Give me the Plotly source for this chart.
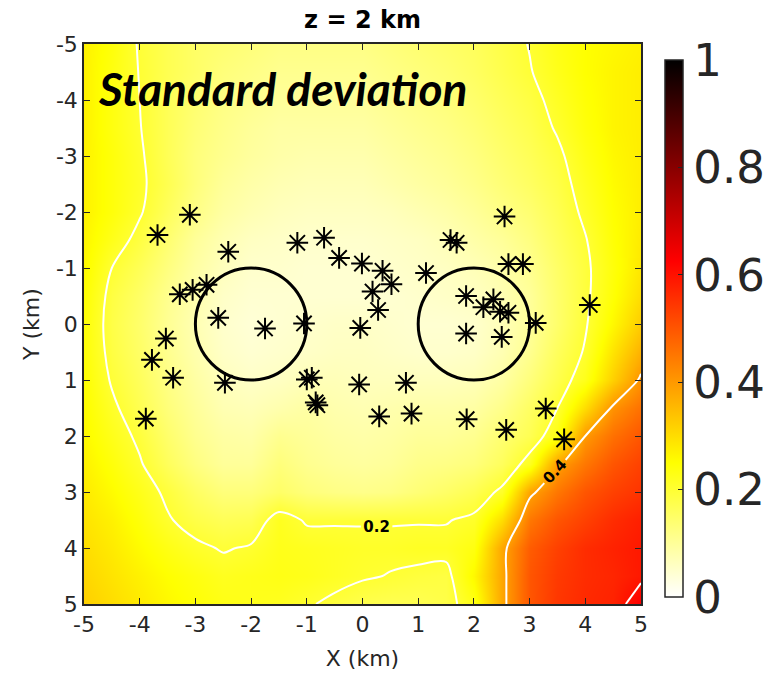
import plotly.graph_objects as go

# Grid coordinates (km)
X_KM = [-5 + 0.5 * i for i in range(21)]
Y_KM = [-5 + 0.5 * j for j in range(21)]

# Standard deviation on the grid, one row per Y value (top row Y = -5)
STD = [
    [0.27, 0.24, 0.195, 0.17, 0.15, 0.14, 0.13, 0.12, 0.12, 0.12, 0.12, 0.13, 0.14, 0.15, 0.16, 0.18, 0.202, 0.23, 0.25, 0.26, 0.27],
    [0.27, 0.235, 0.198, 0.17, 0.15, 0.13, 0.12, 0.11, 0.11, 0.11, 0.11, 0.12, 0.13, 0.14, 0.155, 0.175, 0.197, 0.225, 0.25, 0.265, 0.275],
    [0.27, 0.235, 0.2, 0.165, 0.14, 0.12, 0.11, 0.1, 0.1, 0.1, 0.1, 0.11, 0.12, 0.13, 0.145, 0.165, 0.185, 0.215, 0.245, 0.265, 0.275],
    [0.27, 0.235, 0.202, 0.165, 0.135, 0.115, 0.1, 0.09, 0.09, 0.09, 0.09, 0.1, 0.11, 0.12, 0.135, 0.155, 0.175, 0.205, 0.24, 0.265, 0.275],
    [0.27, 0.24, 0.207, 0.165, 0.13, 0.11, 0.095, 0.085, 0.08, 0.08, 0.08, 0.09, 0.1, 0.11, 0.125, 0.145, 0.165, 0.19, 0.23, 0.26, 0.275],
    [0.27, 0.24, 0.21, 0.17, 0.13, 0.1, 0.085, 0.075, 0.07, 0.07, 0.07, 0.08, 0.09, 0.1, 0.115, 0.135, 0.155, 0.18, 0.22, 0.255, 0.275],
    [0.27, 0.24, 0.205, 0.16, 0.12, 0.09, 0.075, 0.065, 0.06, 0.06, 0.06, 0.065, 0.075, 0.085, 0.1, 0.12, 0.14, 0.17, 0.21, 0.25, 0.275],
    [0.265, 0.225, 0.185, 0.14, 0.1, 0.075, 0.06, 0.055, 0.05, 0.05, 0.05, 0.055, 0.06, 0.07, 0.085, 0.1, 0.125, 0.16, 0.197, 0.245, 0.28],
    [0.26, 0.2, 0.165, 0.125, 0.09, 0.065, 0.05, 0.05, 0.045, 0.045, 0.045, 0.05, 0.055, 0.06, 0.07, 0.085, 0.11, 0.15, 0.19, 0.24, 0.285],
    [0.25, 0.185, 0.15, 0.11, 0.08, 0.055, 0.045, 0.045, 0.045, 0.045, 0.045, 0.045, 0.05, 0.055, 0.06, 0.075, 0.1, 0.145, 0.19, 0.245, 0.3],
    [0.245, 0.18, 0.145, 0.105, 0.075, 0.05, 0.04, 0.045, 0.05, 0.055, 0.055, 0.05, 0.045, 0.045, 0.05, 0.07, 0.1, 0.145, 0.195, 0.26, 0.325],
    [0.245, 0.185, 0.15, 0.11, 0.08, 0.055, 0.045, 0.05, 0.055, 0.06, 0.06, 0.055, 0.05, 0.05, 0.055, 0.075, 0.11, 0.16, 0.205, 0.29, 0.365],
    [0.25, 0.195, 0.16, 0.12, 0.09, 0.065, 0.055, 0.06, 0.07, 0.07, 0.065, 0.065, 0.065, 0.065, 0.07, 0.09, 0.13, 0.175, 0.225, 0.32, 0.41],
    [0.255, 0.21, 0.17, 0.13, 0.1, 0.075, 0.07, 0.08, 0.09, 0.08, 0.075, 0.08, 0.085, 0.085, 0.09, 0.115, 0.155, 0.2, 0.3, 0.41, 0.46],
    [0.26, 0.225, 0.19, 0.145, 0.11, 0.09, 0.085, 0.11, 0.1, 0.09, 0.085, 0.09, 0.1, 0.1, 0.11, 0.14, 0.17, 0.23, 0.4, 0.46, 0.5],
    [0.27, 0.24, 0.205, 0.16, 0.125, 0.1, 0.1, 0.13, 0.11, 0.1, 0.095, 0.1, 0.115, 0.12, 0.13, 0.16, 0.22, 0.39, 0.45, 0.5, 0.53],
    [0.28, 0.255, 0.225, 0.19, 0.155, 0.13, 0.13, 0.15, 0.13, 0.12, 0.115, 0.12, 0.135, 0.15, 0.17, 0.21, 0.385, 0.45, 0.5, 0.53, 0.55],
    [0.29, 0.27, 0.24, 0.205, 0.18, 0.165, 0.17, 0.22, 0.195, 0.196, 0.197, 0.197, 0.197, 0.197, 0.21, 0.3, 0.45, 0.5, 0.53, 0.56, 0.58],
    [0.3, 0.28, 0.255, 0.23, 0.21, 0.196, 0.205, 0.225, 0.22, 0.215, 0.21, 0.21, 0.215, 0.215, 0.235, 0.38, 0.49, 0.53, 0.56, 0.575, 0.59],
    [0.31, 0.29, 0.27, 0.25, 0.235, 0.22, 0.225, 0.23, 0.225, 0.215, 0.205, 0.198, 0.19, 0.185, 0.26, 0.38, 0.5, 0.54, 0.56, 0.57, 0.59],
    [0.32, 0.3, 0.28, 0.26, 0.245, 0.23, 0.225, 0.22, 0.205, 0.19, 0.175, 0.17, 0.17, 0.18, 0.23, 0.38, 0.5, 0.545, 0.565, 0.575, 0.63],
]

# Station locations (km)
STATION_X = [-3.10, -3.68, -2.41, -1.17, -0.69, -0.42, -0.01, -3.28, -3.05, -2.80,
             -2.59, -1.75, -1.05, -0.04, -3.53, -3.78, -3.40, -2.47, -1.00, -0.91,
             -0.84, -0.81, -0.06, -3.89, 2.55, 1.58, 1.69, 0.36, 0.52, 1.14,
             2.62, 2.88, 0.18, 0.28, 1.86, 2.35, 2.17, 2.47, 2.62, 3.11,
             4.08, 1.86, 2.50, 0.78, 0.30, 0.88, 1.87, 2.58, 3.29, 3.62]
STATION_Y = [-1.95, -1.59, -1.29, -1.45, -1.54, -1.18, -1.08, -0.53, -0.61, -0.70,
             -0.11, 0.08, -0.01, 0.07, 0.26, 0.64, 0.96, 1.05, 0.99, 0.96,
             1.40, 1.45, 1.08, 1.69, -1.92, -1.50, -1.45, -0.95, -0.71, -0.91,
             -1.07, -1.07, -0.58, -0.25, -0.50, -0.44, -0.30, -0.22, -0.20, -0.02,
             -0.34, 0.17, 0.23, 1.05, 1.65, 1.60, 1.70, 1.89, 1.51, 2.06]

# Two circular source regions: centre x, centre y, radius (km)
CIRCLE_CX = [-2.0, 2.0]
CIRCLE_CY = [0.0, 0.0]
CIRCLE_R = [1.0, 1.0]

TICKS = [-5, -4, -3, -2, -1, 0, 1, 2, 3, 4, 5]
TICK_LABELS = ["-5", "-4", "-3", "-2", "-1", "0", "1", "2", "3", "4", "5"]
CBAR_TICKS = [0, 0.2, 0.4, 0.6, 0.8, 1]
CBAR_LABELS = ["0", "0.2", "0.4", "0.6", "0.8", "1"]

# Reversed "hot" colormap: white -> yellow -> red -> black
HOT_R = [
    [0.0, "rgb(255,255,255)"],
    [0.25, "rgb(255,255,0)"],
    [0.625, "rgb(255,0,0)"],
    [0.985, "rgb(10,0,0)"],
    [1.0, "rgb(0,0,0)"],
]

INK = "#262626"
FONT = "DejaVu Sans"

fig = go.Figure()

fig.add_trace(go.Heatmap(
    x=X_KM, y=Y_KM, z=STD,
    zsmooth="best", zmin=0, zmax=1,
    colorscale=HOT_R,
    colorbar=dict(
        x=1.043, xanchor="left", xref="paper", xpad=0,
        y=0.492, yanchor="middle", len=0.959, lenmode="fraction", ypad=0,
        thickness=18, thicknessmode="pixels",
        outlinecolor=INK, outlinewidth=1.5,
        tickvals=CBAR_TICKS, ticktext=CBAR_LABELS,
        ticks="inside", ticklen=5, tickcolor=INK,
        tickfont=dict(family=FONT, size=45, color=INK),
    ),
    hoverinfo="skip",
))

fig.add_trace(go.Contour(
    x=X_KM, y=Y_KM, z=STD,
    showscale=False,
    contours=dict(
        coloring="none", start=0.2, end=0.6, size=0.2,
        showlabels=True,
        labelfont=dict(family=FONT, size=15, color="black", weight="bold"),
    ),
    line=dict(color="white", width=2, smoothing=1.0),
    hoverinfo="skip",
))

fig.add_trace(go.Scatter(
    x=STATION_X, y=STATION_Y, mode="markers",
    marker=dict(symbol="asterisk-open", size=18, color="black",
                line=dict(color="black", width=2)),
    hoverinfo="skip", showlegend=False,
))

for cx, cy, r in zip(CIRCLE_CX, CIRCLE_CY, CIRCLE_R):
    fig.add_shape(type="circle", xref="x", yref="y",
                  x0=cx - r, x1=cx + r, y0=cy - r, y1=cy + r,
                  line=dict(color="black", width=3))

fig.add_annotation(
    x=-4.78, y=-4.2, xref="x", yref="y",
    xanchor="left", yanchor="middle", showarrow=False,
    text="<b><i>Standard deviation</i></b>",
    font=dict(family="Lato", size=46, color="black"),
)

axis_common = dict(
    tickvals=TICKS, ticktext=TICK_LABELS,
    ticks="inside", ticklen=6, tickwidth=1.2, tickcolor=INK,
    showline=True, linecolor=INK, linewidth=1.5, mirror="allticks",
    showgrid=False, zeroline=False,
    tickfont=dict(family=FONT, size=22, color=INK),
    title_font=dict(family=FONT, size=22, color=INK),
)

fig.update_layout(
    width=771, height=684,
    margin=dict(l=84, r=130, t=44, b=80, autoexpand=False),
    paper_bgcolor="white", plot_bgcolor="white",
    showlegend=False,
    title=dict(text="<b>z = 2 km</b>", x=0.4702, xanchor="center",
               y=0.971, yanchor="middle", xref="container", yref="container",
               font=dict(family=FONT, size=24, color="black")),
    xaxis=dict(range=[-5, 5], title=dict(text="X (km)", standoff=14), **axis_common),
    yaxis=dict(range=[5, -5], title=dict(text="Y (km)", standoff=10), **axis_common),
)

fig.write_html("out.html")
